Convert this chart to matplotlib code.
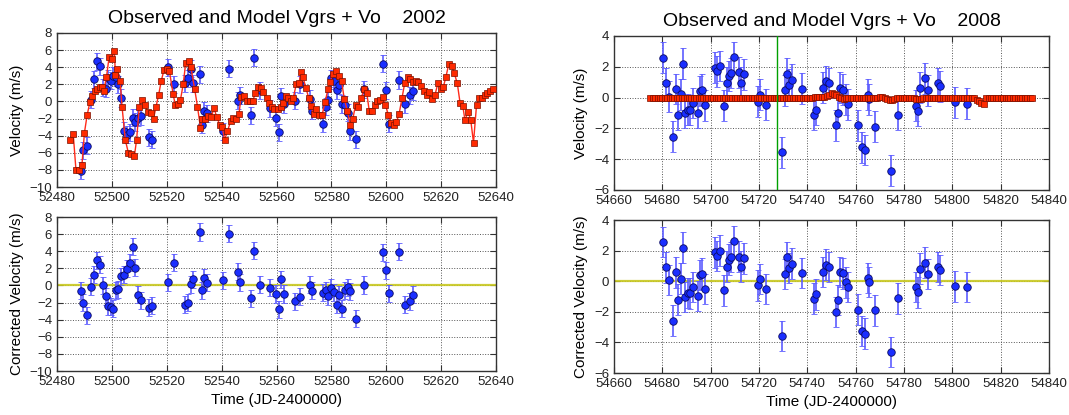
import matplotlib
matplotlib.use('Agg')
import matplotlib.pyplot as plt
import numpy as np

plt.rcParams['font.family'] = ['Liberation Sans', 'DejaVu Sans']
plt.rcParams['xtick.direction'] = 'in'
plt.rcParams['ytick.direction'] = 'in'
plt.rcParams['xtick.top'] = True
plt.rcParams['ytick.right'] = True

# ---- 2002 season ----
model02_t = [52484.8, 52485.9, 52486.9, 52487.9, 52489.1, 52490.0, 52491.0, 52492.0, 52492.9, 52493.7,
             52494.6, 52495.5, 52496.3, 52497.0, 52498.0, 52499.0, 52499.9, 52500.9, 52501.3, 52502.0,
             52503.0, 52503.7, 52504.9, 52506.0, 52507.0, 52508.2, 52509.0, 52510.0, 52510.9, 52512.0,
             52513.0, 52514.1, 52515.2, 52516.1, 52517.0, 52518.0, 52519.0, 52520.0, 52521.0, 52522.3,
             52523.1, 52524.2, 52525.0, 52526.0, 52526.9, 52528.1, 52528.8, 52530.2, 52531.2, 52532.3,
             52533.0, 52534.0, 52535.1, 52536.3, 52537.2, 52538.2, 52539.3, 52540.2, 52541.1, 52542.1,
             52543.3, 52544.3, 52545.3, 52546.3, 52547.1, 52548.3, 52549.1, 52550.2, 52551.3, 52552.3,
             52553.3, 52554.4, 52555.2, 52556.4, 52557.2, 52558.2, 52559.1, 52560.4, 52561.5, 52562.5,
             52563.3, 52564.3, 52565.2, 52566.1, 52567.2, 52568.2, 52569.0, 52569.6, 52570.7, 52571.8,
             52572.5, 52573.5, 52574.5, 52575.6, 52576.6, 52577.7, 52578.8, 52579.6, 52580.6, 52581.6,
             52582.7, 52583.7, 52584.7, 52585.8, 52586.9, 52587.8, 52588.8, 52589.8, 52590.8, 52591.9,
             52592.9, 52593.8, 52594.8, 52595.9, 52596.8, 52597.7, 52598.7, 52599.7, 52600.8, 52601.8,
             52602.8, 52603.7, 52604.7, 52605.7, 52606.7, 52607.8, 52608.8, 52609.7, 52610.7, 52611.7,
             52612.7, 52613.8, 52614.8, 52615.7, 52616.8, 52617.8, 52618.8, 52619.8, 52620.8, 52621.7,
             52622.8, 52623.8, 52624.8, 52625.9, 52626.9, 52627.9, 52628.7, 52629.8, 52630.8, 52631.8,
             52632.9, 52633.9, 52635.0, 52636.0, 52636.9, 52637.9, 52638.9]
model02_v = [-4.55, -3.76, -7.96, -7.96, -7.4, -3.65, -1.57, -0.08, 0.63, 1.2,
             1.5, 1.7, 1.7, 1.2, 2.8, 5.2, 5.0, 5.9, 3.1, 3.8,
             2.4, -0.6, -4.5, -6.0, -6.2, -6.4, -4.5, -0.6, 0.15, -0.4,
             -1.2, -1.4, -2.0, -0.6, 0.7, 2.4, 3.7, 3.8, 3.5, 0.9,
             -0.4, -0.3, 0.2, 2.0, 4.5, 4.7, 4.0, 1.4, -0.6, -3.1,
             -2.1, -2.0, -1.7, -1.8, -0.75, -1.8, -2.7, -3.0, -4.5, -3.5,
             -2.3, -1.9, -2.1, -1.5, 0.55, 0.6, 0.1, 0.1, 0.0, 1.0,
             1.65, 1.6, 1.05, 0.35, -0.15, -0.6, -0.85, -0.85, -0.6, -0.15,
             0.6, 0.4, 0.0, 0.4, 2.0, 2.2, 3.4, 2.9, 1.6, 0.35,
             -0.5, -1.5, -0.9, -1.6, -1.6, -0.1, 1.5, 2.3, 3.2, 3.6,
             3.0, 2.4, 0.3, -1.1, -2.7, -2.1, -0.4, -0.6, 0.35, 1.4,
             1.0, -1.1, -1.1, -0.4, 0.0, 0.2, 0.5, -0.4, -1.6, -2.5,
             -2.7, -2.4, -1.45, 0.35, 2.1, 2.8, 2.6, 2.3, 2.4, 2.3,
             1.8, 1.2, 0.7, 1.1, 0.3, 0.8, 2.1, 1.5, 1.7, 2.8,
             4.4, 4.2, 3.3, 2.1, -0.15, -0.55, -2.2, -1.2, -2.2, -4.8,
             -0.45, 0.4, 0.4, 0.8, 1.0, 1.2, 1.4]

obs02_t = [52488.6, 52489.6, 52490.8, 52492.4, 52493.5, 52494.6, 52495.5, 52496.6, 52497.8, 52498.7,
           52499.6, 52500.5, 52501.5, 52502.4, 52503.4, 52504.5, 52505.5, 52506.5, 52507.7, 52508.6,
           52509.5, 52510.5, 52513.6, 52514.7, 52520.6, 52522.8, 52526.7, 52527.8, 52528.8, 52529.7,
           52532.0, 52532.7, 52533.7, 52534.6, 52540.5, 52542.7, 52545.8, 52546.8, 52550.7, 52551.7,
           52553.9, 52557.7, 52559.7, 52560.8, 52561.8, 52562.9, 52566.8, 52568.5, 52572.1, 52572.8,
           52577.0, 52578.0, 52578.9, 52580.0, 52580.9, 52582.0, 52582.9, 52583.9, 52585.0, 52586.0,
           52586.9, 52588.9, 52591.9, 52598.9, 52599.8, 52600.9, 52604.7, 52606.8, 52608.8, 52609.8]
obs02_v = [-8.1, -5.7, -5.2, 0.2, 2.6, 4.7, 4.1, 1.6, 1.5, 2.7,
           2.4, 3.0, 2.8, 2.0, 0.4, -3.4, -3.9, -3.6, -1.9, -2.4,
           -1.9, -1.7, -4.2, -4.5, 4.0, 2.0, 2.1, 2.7, 3.8, 2.1,
           3.2, -2.7, -1.1, -1.4, -3.5, 3.8, 0.1, 0.7, -1.6, 5.1,
           1.3, -0.8, -1.9, -3.6, 0.6, -0.35, 0.1, 2.0, 0.3, -1.1,
           -2.6, -0.6, 0.15, 2.7, 2.4, 1.3, 1.9, -0.3, -0.4, -1.3,
           -3.5, -4.4, 1.4, 4.4, 1.3, -2.6, 2.5, -0.3, 0.7, 1.2]
corr02_v = [-0.6, -2.0, -3.5, -0.15, 1.25, 2.95, 2.4, 0.0, -1.25, -2.4,
            -2.5, -2.7, -0.55, -0.45, 1.05, 1.25, 1.95, 2.65, 4.5, 2.05,
            -1.1, -1.75, -2.6, -2.35, 0.35, 2.65, -2.25, -2.0, 0.15, 0.7,
            6.25, -0.55, 0.9, 0.3, 0.6, 6.05, 1.6, 0.35, -1.5, 4.05,
            0.1, -0.25, -1.0, -2.8, 0.7, -1.0, -1.85, -1.3, 0.1, -0.6,
            -0.85, -0.55, -1.25, -0.3, -0.8, -2.25, -1.1, -2.7, -0.55, -0.2,
            -0.7, -3.9, 0.05, 3.9, 1.75, -0.9, 3.95, -2.25, -1.85, -1.1]
err02 = 1.0

# ---- 2008 season ----
model08_t = np.arange(54675, 54834)
model08_v = ([0.0] * 68
             + [0.05, 0.05, 0.05, 0.05, 0.05, 0.1, 0.2, 0.3, 0.25, 0.15, 0.05, -0.05, -0.1, -0.05]
             + [0.0] * 13
             + [0.05, 0.05, 0.0, -0.1, -0.15, -0.15, -0.1, 0.0]
             + [0.0] * 6
             + [-0.05, -0.1, -0.1, -0.1, -0.05]
             + [0.0] * 20
             + [-0.05, -0.15, -0.25, -0.35, -0.4]
             + [0.0] * 20)

obs08_t = [54680.4, 54681.7, 54682.6, 54684.6, 54685.7, 54686.6, 54687.7, 54688.7, 54689.5, 54690.5,
           54691.6, 54692.6, 54694.8, 54695.6, 54696.3, 54697.5, 54701.7, 54702.6, 54703.7, 54705.5,
           54706.6, 54707.4, 54708.6, 54709.7, 54711.6, 54712.7, 54713.7, 54719.7, 54720.6, 54722.8,
           54729.5, 54730.8, 54731.7, 54732.6, 54733.7, 54737.7, 54742.7, 54743.7, 54746.6, 54747.6,
           54748.8, 54751.7, 54752.7, 54753.6, 54754.6, 54755.9, 54756.7, 54760.8, 54762.8, 54763.7,
           54765.0, 54765.5, 54767.9, 54774.8, 54777.6, 54784.9, 54785.9, 54786.7, 54788.8, 54789.9,
           54793.9, 54794.9, 54801.0, 54805.9]
obs08_v = [2.58, 0.93, 0.05, -2.53, 0.56, -1.13, 0.22, 2.2, -1.0, -0.78,
           -0.8, -0.35, -0.97, 0.43, 0.52, -0.5, 1.95, 1.7, 2.05, -0.52,
           0.97, 1.4, 1.6, 2.64, 1.65, 0.97, 1.52, -0.26, 0.19, -0.45,
           -3.55, 0.48, 1.56, 0.84, 1.15, 0.57, -1.12, -0.81, 0.63, 1.08,
           0.95, -1.8, -1.0, 0.63, 0.5, -0.1, -0.43, -1.8, -3.22, -3.4,
           0.19, -0.1, -1.9, -4.74, -1.1, -0.52, -0.87, 0.65, 1.26, 0.48,
           0.95, 0.74, -0.3, -0.39]
corr08_v = [2.57, 0.91, 0.07, -2.57, 0.57, -1.2, 0.17, 2.2, -1.02, -0.78,
            -0.8, -0.37, -0.98, 0.41, 0.5, -0.5, 1.89, 1.65, 2.0, -0.59,
            0.96, 1.41, 1.59, 2.63, 1.61, 0.96, 1.5, -0.28, 0.15, -0.5,
            -3.59, 0.46, 1.59, 0.87, 1.15, 0.54, -1.15, -0.85, 0.61, 1.09,
            0.93, -2.02, -1.24, 0.61, 0.52, -0.07, -0.37, -1.85, -3.26, -3.43,
            0.2, -0.04, -1.91, -4.63, -1.13, -0.37, -0.72, 0.83, 1.22, 0.48,
            0.93, 0.74, -0.33, -0.39]
err08 = 1.0
marker_day08 = 54727.6

W, H = 1069, 415
fig = plt.figure(figsize=(W / 100, H / 100), dpi=100)

def box(x0, y0, x1, y1):
    return [x0 / W, 1 - y1 / H, (x1 - x0) / W, (y1 - y0) / H]

ax_tl = fig.add_axes(box(57, 33, 496, 187))
ax_bl = fig.add_axes(box(57, 217, 496, 371))
ax_tr = fig.add_axes(box(614, 36, 1049, 190))
ax_br = fig.add_axes(box(614, 220, 1049, 373))

obs_kw = dict(fmt='o', color='#1a2eff', mec='#0a0a60', mew=0.6, ms=5.4,
              ecolor='#5c5cff', elinewidth=1.2, capsize=2.2, capthick=1.2, zorder=3)
model_kw = dict(color='#ff2a1a', lw=1.0, marker='s', ms=5, mfc='#ff2a00',
                mec='#7a1000', mew=0.5, zorder=4)

def style(ax, xlim, ylim, xstep, ystep):
    ax.set_xlim(*xlim)
    ax.set_ylim(*ylim)
    ax.set_xticks(np.arange(xlim[0], xlim[1] + 1, xstep))
    ax.set_yticks(np.arange(ylim[0], ylim[1] + 0.1, ystep))
    ax.grid(True, ls=':', color='#555555', lw=0.7)
    ax.tick_params(labelsize=9.5, length=4, color='#333333', labelcolor='#222222')
    for s in ax.spines.values():
        s.set_color('#333333')
        s.set_linewidth(1.0)
    ax.set_axisbelow(True)

# 2002
ax_tl.errorbar(obs02_t, obs02_v, yerr=err02, **obs_kw)
ax_tl.plot(model02_t, model02_v, **model_kw)
style(ax_tl, (52480, 52640), (-10, 8), 20, 2)
ax_tl.set_ylabel('Velocity (m/s)', fontsize=11)
ax_tl.set_title('Observed and Model Vgrs + Vo    2002', fontsize=14, pad=7)

ax_bl.axhline(0, color='#c8c820', lw=1.6, alpha=0.9, zorder=2)
ax_bl.errorbar(obs02_t, corr02_v, yerr=err02, **obs_kw)
style(ax_bl, (52480, 52640), (-10, 8), 20, 2)
ax_bl.set_ylabel('Corrected Velocity (m/s)', fontsize=11)
ax_bl.set_xlabel('Time (JD-2400000)', fontsize=11)

# 2008
ax_tr.errorbar(obs08_t, obs08_v, yerr=err08, **obs_kw)
ax_tr.plot(model08_t, model08_v, **model_kw)
ax_tr.axvline(marker_day08, color='#00a000', lw=1.0, zorder=5)
style(ax_tr, (54660, 54840), (-6, 4), 20, 2)
ax_tr.set_ylabel('Velocity (m/s)', fontsize=11)
ax_tr.set_title('Observed and Model Vgrs + Vo    2008', fontsize=14, pad=7)

ax_br.axhline(0, color='#c8c820', lw=1.6, alpha=0.9, zorder=2)
ax_br.errorbar(obs08_t, corr08_v, yerr=err08, **obs_kw)
style(ax_br, (54660, 54840), (-6, 4), 20, 2)
ax_br.set_ylabel('Corrected Velocity (m/s)', fontsize=11)
ax_br.set_xlabel('Time (JD-2400000)', fontsize=11)

fig.savefig('out.png', dpi=100, facecolor='white')
